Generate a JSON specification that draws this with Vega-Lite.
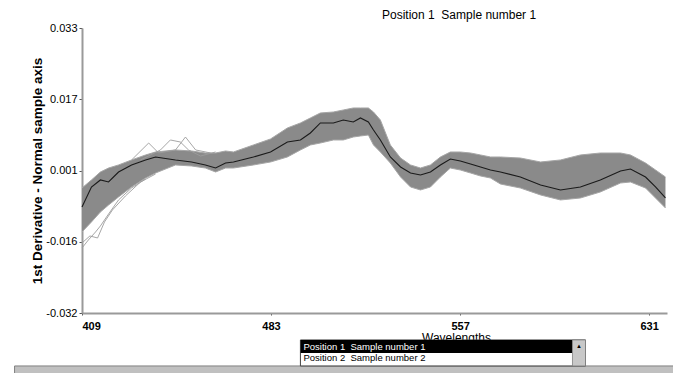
{
  "$schema": "https://vega.github.io/schema/vega-lite/v6.json",
  "width": 585,
  "height": 285,
  "autosize": "none",
  "padding": {"left": 82, "top": 28, "right": 6, "bottom": 60},
  "background": "white",
  "config": {
    "view": {"stroke": null},
    "font": "Liberation Sans",
    "axis": {"grid": false, "zindex": 0, "labelFont": "Liberation Sans", "titleFont": "Liberation Sans", "labelColor": "black", "titleColor": "black", "domainColor": "#9a9a9a", "domainWidth": 2, "tickColor": "#555555"}
  },
  "title": {
    "text": "Position 1\u00a0 Sample number 1",
    "anchor": "start",
    "frame": "group",
    "dx": 300,
    "dy": 19,
    "offset": 10,
    "baseline": "alphabetic",
    "fontSize": 12,
    "fontWeight": "normal",
    "font": "Liberation Sans",
    "color": "black"
  },
  "datasets": {
    "band": [
      {"w": 409.0, "mean": -0.00782, "hi": -0.00349, "lo": -0.01352},
      {"w": 412.7, "mean": -0.00326, "hi": -0.00166, "lo": -0.01124},
      {"w": 416.2, "mean": -0.00166, "hi": 0.00016, "lo": -0.00896},
      {"w": 419.4, "mean": -0.00212, "hi": 0.00107, "lo": -0.00737},
      {"w": 423.3, "mean": 0.00016, "hi": 0.00176, "lo": -0.00554},
      {"w": 428.4, "mean": 0.00176, "hi": 0.0029, "lo": -0.00326},
      {"w": 433.9, "mean": 0.0029, "hi": 0.00404, "lo": -0.00121},
      {"w": 437.8, "mean": 0.00358, "hi": 0.00472, "lo": -0.00007},
      {"w": 445.6, "mean": 0.0029, "hi": 0.00518, "lo": 0.00176},
      {"w": 451.9, "mean": 0.00244, "hi": 0.00495, "lo": 0.00153},
      {"w": 457.3, "mean": 0.00176, "hi": 0.00449, "lo": 0.00107},
      {"w": 461.3, "mean": 0.00107, "hi": 0.00449, "lo": 0.00016},
      {"w": 465.2, "mean": 0.00221, "hi": 0.00495, "lo": 0.00107},
      {"w": 468.3, "mean": 0.00244, "hi": 0.00472, "lo": 0.00107},
      {"w": 476.1, "mean": 0.00358, "hi": 0.00632, "lo": 0.00176},
      {"w": 482.8, "mean": 0.00472, "hi": 0.00769, "lo": 0.00244},
      {"w": 489.4, "mean": 0.007, "hi": 0.0102, "lo": 0.00358},
      {"w": 494.5, "mean": 0.00746, "hi": 0.01134, "lo": 0.00518},
      {"w": 498.4, "mean": 0.00906, "hi": 0.01248, "lo": 0.00632},
      {"w": 502.3, "mean": 0.01134, "hi": 0.01362, "lo": 0.00677},
      {"w": 507.4, "mean": 0.01134, "hi": 0.01384, "lo": 0.00746},
      {"w": 511.3, "mean": 0.01202, "hi": 0.0143, "lo": 0.00746},
      {"w": 515.2, "mean": 0.01156, "hi": 0.01476, "lo": 0.00814},
      {"w": 518.0, "mean": 0.01248, "hi": 0.01476, "lo": 0.00837},
      {"w": 521.1, "mean": 0.01156, "hi": 0.01476, "lo": 0.0086},
      {"w": 523.1, "mean": 0.00974, "hi": 0.01384, "lo": 0.00632},
      {"w": 525.8, "mean": 0.00746, "hi": 0.01202, "lo": 0.00472},
      {"w": 529.7, "mean": 0.00358, "hi": 0.00632, "lo": 0.00221},
      {"w": 533.7, "mean": 0.0013, "hi": 0.00335, "lo": -0.00098},
      {"w": 537.6, "mean": -0.00007, "hi": 0.00176, "lo": -0.00326},
      {"w": 541.5, "mean": -0.00052, "hi": 0.00107, "lo": -0.00394},
      {"w": 545.4, "mean": 0.00016, "hi": 0.00176, "lo": -0.00326},
      {"w": 549.3, "mean": 0.00176, "hi": 0.00358, "lo": -0.00098},
      {"w": 553.2, "mean": 0.00313, "hi": 0.00472, "lo": 0.00107},
      {"w": 557.1, "mean": 0.00267, "hi": 0.00472, "lo": 0.00062},
      {"w": 561.1, "mean": 0.00199, "hi": 0.00449, "lo": -0.00007},
      {"w": 565.0, "mean": 0.0013, "hi": 0.00404, "lo": -0.00075},
      {"w": 568.9, "mean": 0.00062, "hi": 0.00358, "lo": -0.00121},
      {"w": 572.8, "mean": 0.00016, "hi": 0.00358, "lo": -0.00258},
      {"w": 580.6, "mean": -0.00098, "hi": 0.00335, "lo": -0.00349},
      {"w": 588.5, "mean": -0.0028, "hi": 0.00244, "lo": -0.00508},
      {"w": 596.3, "mean": -0.00394, "hi": 0.0029, "lo": -0.00622},
      {"w": 604.1, "mean": -0.00326, "hi": 0.00404, "lo": -0.00577},
      {"w": 611.9, "mean": -0.00166, "hi": 0.00449, "lo": -0.0044},
      {"w": 619.8, "mean": 0.00039, "hi": 0.00449, "lo": -0.00235},
      {"w": 623.7, "mean": 0.00085, "hi": 0.00404, "lo": -0.00212},
      {"w": 629.6, "mean": -0.00098, "hi": 0.00221, "lo": -0.00349},
      {"w": 633.5, "mean": -0.00326, "hi": 0.00062, "lo": -0.00577},
      {"w": 637.4, "mean": -0.00577, "hi": -0.00098, "lo": -0.00805}
    ],
    "samples": [
      {"s": "a", "w": 409.0, "v": -0.01717},
      {"s": "a", "w": 411.5, "v": -0.01535},
      {"s": "a", "w": 414.3, "v": -0.01352},
      {"s": "a", "w": 416.2, "v": -0.01215},
      {"s": "a", "w": 419.4, "v": -0.00942},
      {"s": "a", "w": 423.3, "v": -0.00622},
      {"s": "a", "w": 428.4, "v": -0.00349},
      {"s": "a", "w": 433.9, "v": -0.00144},
      {"s": "b", "w": 409.0, "v": -0.01603},
      {"s": "b", "w": 412.1, "v": -0.01443},
      {"s": "b", "w": 415.1, "v": -0.01489},
      {"s": "b", "w": 417.8, "v": -0.01124},
      {"s": "b", "w": 420.9, "v": -0.00851},
      {"s": "b", "w": 426.0, "v": -0.00531},
      {"s": "b", "w": 431.9, "v": -0.00212},
      {"s": "b", "w": 437.8, "v": -0.0003},
      {"s": "c", "w": 428.4, "v": 0.0029},
      {"s": "c", "w": 435.1, "v": 0.00677},
      {"s": "c", "w": 439.0, "v": 0.00449},
      {"s": "c", "w": 445.6, "v": 0.00518},
      {"s": "c", "w": 449.5, "v": 0.00814},
      {"s": "c", "w": 453.5, "v": 0.00518},
      {"s": "c", "w": 459.4, "v": 0.00449},
      {"s": "d", "w": 431.9, "v": 0.0029},
      {"s": "d", "w": 439.7, "v": 0.00518},
      {"s": "d", "w": 443.6, "v": 0.00746},
      {"s": "d", "w": 447.5, "v": 0.007},
      {"s": "d", "w": 450.7, "v": 0.00518},
      {"s": "d", "w": 455.4, "v": 0.00381},
      {"s": "d", "w": 461.3, "v": 0.00472}
    ]
  },
  "layer": [
    {
      "data": {"name": "band"},
      "mark": {"type": "area", "color": "#8a8a8a", "opacity": 1},
      "encoding": {
        "x": {
          "field": "w", "type": "quantitative",
          "scale": {"domain": [409, 638], "nice": false, "zero": false},
          "axis": {
            "values": [409, 483, 557, 631], "format": "d",
            "labelFontSize": 11, "labelFontWeight": "bold", "tickSize": 2, "labelPadding": 5,
            "title": "Wavelengths", "titleFontSize": 12, "titleFontWeight": "normal",
            "titleX": 374, "titleY": 19, "titleBaseline": "top", "titleAlign": "center"
          }
        },
        "y": {
          "field": "lo", "type": "quantitative",
          "scale": {"domain": [-0.032, 0.033], "nice": false, "zero": false},
          "axis": {
            "values": [-0.032, -0.01575, 0.0005, 0.01675, 0.033],
            "labelExpr": "datum.value < -0.02 ? '-0.032' : datum.value < -0.01 ? '-0.016' : datum.value < 0.005 ? '0.001' : datum.value < 0.02 ? '0.017' : '0.033'",
            "labelFontSize": 11, "tickSize": 3, "labelPadding": 2,
            "title": "1st Derivative - Normal sample axis", "titleFontSize": 13.5, "titleFontWeight": "bold", "titlePadding": 1
          }
        },
        "y2": {"field": "hi"}
      }
    },
    {
      "data": {"name": "band"},
      "mark": {"type": "line", "color": "#a6a6a6", "strokeWidth": 1},
      "encoding": {"x": {"field": "w", "type": "quantitative"}, "y": {"field": "hi", "type": "quantitative"}}
    },
    {
      "data": {"name": "band"},
      "mark": {"type": "line", "color": "#a6a6a6", "strokeWidth": 1},
      "encoding": {"x": {"field": "w", "type": "quantitative"}, "y": {"field": "lo", "type": "quantitative"}}
    },
    {
      "data": {"name": "samples"},
      "mark": {"type": "line", "color": "#9c9c9c", "strokeWidth": 0.9},
      "encoding": {"x": {"field": "w", "type": "quantitative"}, "y": {"field": "v", "type": "quantitative"}, "detail": {"field": "s"}}
    },
    {
      "data": {"name": "band"},
      "mark": {"type": "line", "color": "#1a1a1a", "strokeWidth": 1.1},
      "encoding": {"x": {"field": "w", "type": "quantitative"}, "y": {"field": "mean", "type": "quantitative"}}
    },
    {
      "data": {"values": [{}]},
      "mark": {"type": "rect", "color": "#c0c0c0", "stroke": "#808080", "strokeWidth": 1},
      "encoding": {"x": {"datum": 382.6, "type": "quantitative"}, "x2": {"datum": 641}, "y": {"datum": -0.04408, "type": "quantitative"}, "y2": {"datum": -0.0475}}
    },
    {
      "data": {"values": [{}]},
      "mark": {"type": "rect", "color": "white", "stroke": "#404040", "strokeWidth": 1},
      "encoding": {"x": {"datum": 494.5, "type": "quantitative"}, "x2": {"datum": 606.1}, "y": {"datum": -0.03815, "type": "quantitative"}, "y2": {"datum": -0.04408}}
    },
    {
      "data": {"values": [{}]},
      "mark": {"type": "rect", "color": "black"},
      "encoding": {"x": {"datum": 494.6, "type": "quantitative"}, "x2": {"datum": 601.0}, "y": {"datum": -0.03815, "type": "quantitative"}, "y2": {"datum": -0.04112}}
    },
    {
      "data": {"values": [{}]},
      "mark": {"type": "rect", "color": "#c8c8c8", "stroke": "#808080", "strokeWidth": 0.8},
      "encoding": {"x": {"datum": 601.0, "type": "quantitative"}, "x2": {"datum": 606.1}, "y": {"datum": -0.03815, "type": "quantitative"}, "y2": {"datum": -0.04408}}
    },
    {
      "data": {"values": [{}]},
      "mark": {"type": "text", "text": "\u25b2", "fontSize": 6, "color": "black", "align": "center", "baseline": "middle"},
      "encoding": {"x": {"datum": 603.5, "type": "quantitative"}, "y": {"datum": -0.0396, "type": "quantitative"}}
    },
    {
      "data": {"values": [{"label": "Position 1\u00a0 Sample number 1"}]},
      "mark": {"type": "text", "fontSize": 9.5, "color": "white", "align": "left", "baseline": "alphabetic", "font": "Liberation Sans"},
      "encoding": {"text": {"field": "label"}, "x": {"datum": 495.7, "type": "quantitative"}, "y": {"datum": -0.04043, "type": "quantitative"}}
    },
    {
      "data": {"values": [{"label": "Position 2\u00a0 Sample number 2"}]},
      "mark": {"type": "text", "fontSize": 9.5, "color": "black", "align": "left", "baseline": "alphabetic", "font": "Liberation Sans"},
      "encoding": {"text": {"field": "label"}, "x": {"datum": 495.7, "type": "quantitative"}, "y": {"datum": -0.04305, "type": "quantitative"}}
    }
  ]
}
